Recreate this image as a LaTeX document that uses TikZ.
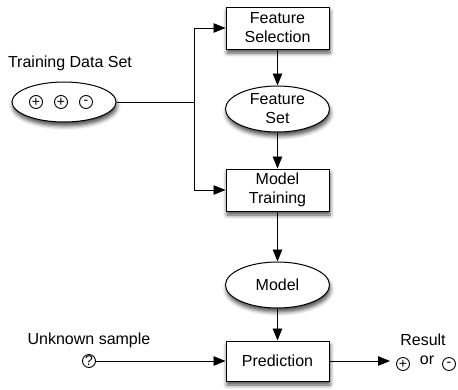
\documentclass[tikz,border=0pt]{standalone}
\usepackage{fontspec}
\setmainfont{Liberation Sans}
\usetikzlibrary{arrows.meta,shapes.geometric,shadows.blur}
\tikzset{
  every node/.style={font=\fontsize{16}{19}\selectfont},
  shad/.style={blur shadow={shadow xshift=1pt,shadow yshift=-4pt,shadow blur radius=4pt,shadow opacity=70}},
  procbox/.style={draw,line width=1pt,fill=white,shad,minimum width=103pt,minimum height=42pt,align=center,inner sep=1pt},
  dataell/.style={draw,line width=1pt,fill=white,shad,ellipse,minimum width=104pt,minimum height=46pt,align=center,inner sep=0pt},
  sym/.style={draw,circle,line width=0.9pt,inner sep=0pt,minimum size=13pt,font=\fontsize{14}{14}\selectfont},
  conn/.style={line width=0.9pt},
  arr/.style={conn,-{Triangle[length=12pt,width=9.5pt]}},
  lbl/.style={inner sep=0pt}
}
\begin{document}
\begin{tikzpicture}[x=1pt,y=-1pt]
\useasboundingbox (0,0) rectangle (458,389);
% main column
\node[procbox] (fs) at (277.5,28) {Feature\\Selection};
\node[dataell] (fset) at (277.5,109) {Feature\\Set};
\node[procbox] (mt) at (277.5,190) {Model\\Training};
\node[dataell] (model) at (277.5,285) {Model};
\node[procbox,minimum height=40pt] (pred) at (277.5,361) {Prediction};
% training data
\node[lbl] (tdl) at (70,63) {Training Data Set};
\node[dataell,minimum width=104pt,minimum height=40pt] (tr) at (64,102) {};
\node[sym] (p1) at (36,102) {+};
\node[sym] (p2) at (61,102) {+};
\node[sym] (m1) at (86,102) {-};
\coordinate (J) at (194,102);
% unknown sample
\node[lbl] (usl) at (89,340) {Unknown sample};
\node[sym] (q) at (89,361) {?};
% result
\node[lbl] (resl) at (423,340) {Result};
\coordinate (R) at (390,361);
\node[sym] (rp) at (403,364) {+};
\node[lbl] (orl) at (427,360) {or};
\node[sym] (rm) at (449,364) {-};
% connectors
\draw[conn] (tr.east) -- (J);
\draw[arr] (J) |- (fs.west);
\draw[arr] (J) |- (mt.west);
\draw[arr] (fs.south) -- (fset.north);
\draw[arr] (fset.south) -- (mt.north);
\draw[arr] (mt.south) -- (model.north);
\draw[arr] (model.south) -- (pred.north);
\draw[arr] (q.east) -- (pred.west);
\draw[arr] (pred.east) -- (R);
\end{tikzpicture}
\end{document}
